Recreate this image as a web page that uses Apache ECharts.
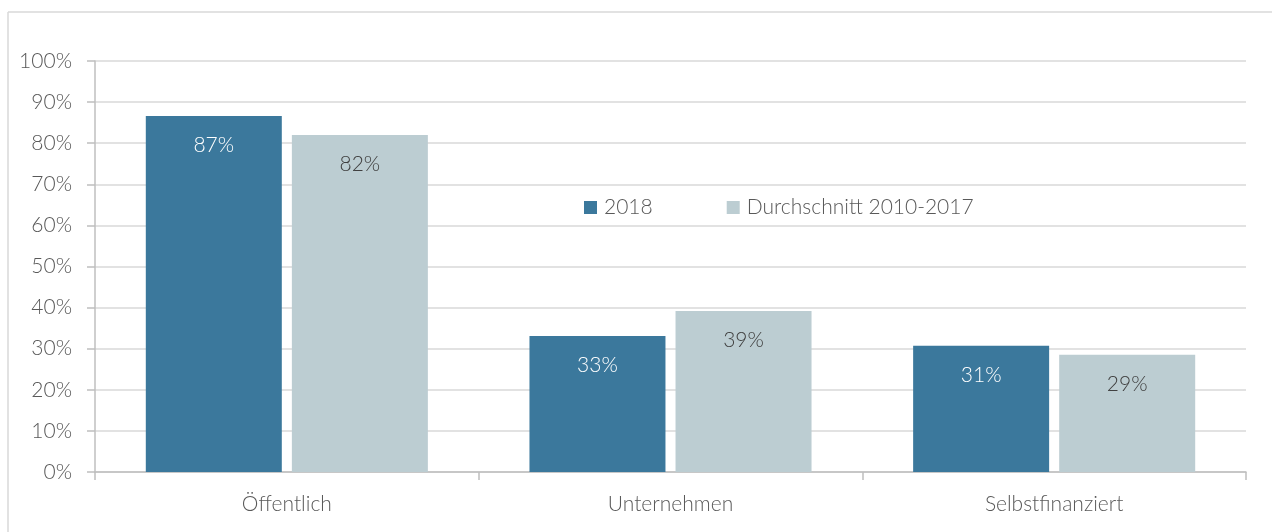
<!DOCTYPE html>
<html><head><meta charset="utf-8">
<script src="https://cdn.jsdelivr.net/npm/echarts@6/dist/echarts.min.js"></script>
<style>html,body{margin:0;padding:0;background:#fff}#c{width:1272px;height:532px}</style>
</head><body><div id="c"></div>
<script>
const categories = ['Öffentlich', 'Unternehmen', 'Selbstfinanziert'];
const seriesNames = ['2018', 'Durchschnitt 2010-2017'];
const values2018 = [86.6, 33.1, 30.7];
const valuesAvg = [82.0, 39.2, 28.5];

const FONT = 'Lato';
const FS = 21;
const chart = echarts.init(document.getElementById('c'), null, {renderer: 'canvas'});
const lbl = (color) => ({
  show: true, position: 'insideTop', distance: 19, color: color,
  fontSize: FS, fontFamily: FONT, fontWeight: 300,
  formatter: p => Math.round(p.value) + '%'
});
chart.setOption({
  animation: false,
  graphic: [
    {type: 'line', shape: {x1: 8, y1: 12, x2: 1272, y2: 12}, style: {stroke: '#d9d9d9', lineWidth: 1.5}},
    {type: 'line', shape: {x1: 8, y1: 12, x2: 8, y2: 532}, style: {stroke: '#d9d9d9', lineWidth: 1.5}}
  ],
  grid: {left: 95, right: 26, top: 61, bottom: 60, containLabel: false},
  legend: {
    left: 579, top: 192, itemWidth: 13, itemHeight: 13, itemGap: 74,
    icon: 'rect',
    textStyle: {fontSize: FS, fontFamily: FONT, fontWeight: 300, color: '#595959', padding: [0,0,0,2]},
    data: seriesNames
  },
  xAxis: {
    type: 'category', data: categories,
    axisLine: {lineStyle: {color: '#bfbfbf', width: 1.5}},
    axisTick: {show: true, length: 8, lineStyle: {color: '#bfbfbf', width: 1.5}},
    axisLabel: {fontSize: FS, fontFamily: FONT, fontWeight: 300, color: '#595959', margin: 22}
  },
  yAxis: {
    type: 'value', min: 0, max: 100, interval: 10,
    axisLine: {show: true, lineStyle: {color: '#bfbfbf', width: 1.5}},
    axisTick: {show: true, length: 8, lineStyle: {color: '#bfbfbf', width: 1.5}},
    axisLabel: {formatter: '{value}%', fontSize: FS, fontFamily: FONT, fontWeight: 300, color: '#595959', margin: 23},
    splitLine: {lineStyle: {color: '#d9d9d9', width: 1.5}}
  },
  series: [
    {name: seriesNames[0], type: 'bar', data: values2018, barWidth: 136, barGap: '7.4%',
     itemStyle: {color: '#3b789c'}, label: lbl('#ffffff')},
    {name: seriesNames[1], type: 'bar', data: valuesAvg, barWidth: 136,
     itemStyle: {color: '#bccdd2'}, label: lbl('#404040')}
  ]
});
</script></body></html>
